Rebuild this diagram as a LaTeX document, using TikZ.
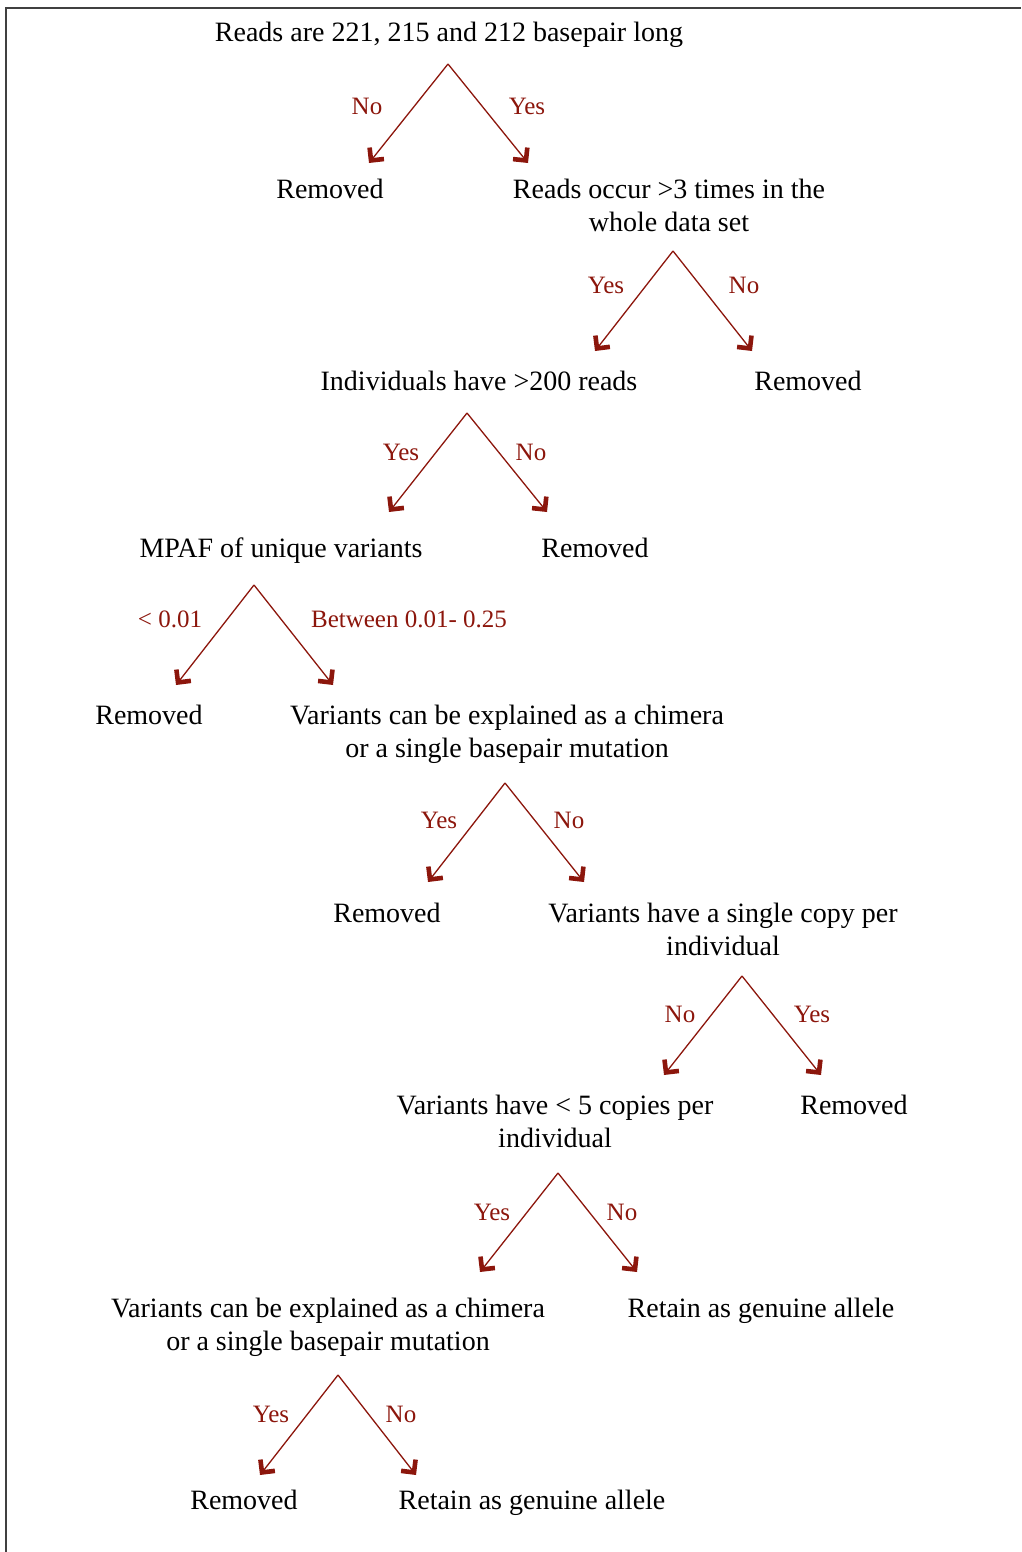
\documentclass[tikz,border=0pt]{standalone}
\usepackage{fontspec}
\setmainfont{Liberation Serif}
\usepackage{tikz}
\usetikzlibrary{arrows.meta}
\definecolor{branchred}{RGB}{140,22,12}
\tikzset{
  step node/.style = 	{align=center, inner sep=0pt,
				font=\fontsize{28}{33}\selectfont},
  choice/.style = 	{text=branchred, inner sep=0pt,
				font=\fontsize{25}{30}\selectfont},
  branch/.style = 	{draw=branchred, line width=1.3pt,
				-{Straight Barb[angle=90:13pt, line width=4.6pt]}},
}
\begin{document}
\begin{tikzpicture}
	[
		x                       = 1pt,
		y                       = -1pt,
		every node/.style       = {anchor=center}
	]
	\useasboundingbox (0,0) rectangle (1021,1552);
	\draw [line width=1.5pt, black!75] (6,1552) -- (6,8) -- (1021,8);

	\node [step node] (len)    at (449,35)   {Reads are 221, 215 and 212 basepair long};
	\node [step node] (rem1)   at (330,189)  {Removed};
	\node [step node] (occur)  at (669,205)  {Reads occur >3 times in the\\whole data set};
	\node [step node] (indiv)  at (479,381)  {Individuals have >200 reads};
	\node [step node] (rem2)   at (808,381)  {Removed};
	\node [step node] (mpaf)   at (281,551)  {MPAF of unique variants};
	\node [step node] (rem3)   at (595,548)  {Removed};
	\node [step node] (rem4)   at (149,715)  {Removed};
	\node [step node] (chim1)  at (507,734)  {Variants can be explained as a chimera\\or a single basepair mutation};
	\node [step node] (rem5)   at (387,913)  {Removed};
	\node [step node] (single) at (723,929)  {Variants have a single copy per\\individual};
	\node [step node] (five)   at (555,1121) {Variants have < 5 copies per\\individual};
	\node [step node] (rem6)   at (854,1105) {Removed};
	\node [step node] (chim2)  at (328,1327) {Variants can be explained as a chimera\\or a single basepair mutation};
	\node [step node] (keep1)  at (761,1311) {Retain as genuine allele};
	\node [step node] (rem7)   at (244,1500) {Removed};
	\node [step node] (keep2)  at (532,1503) {Retain as genuine allele};

	\coordinate (s1) at (448,64);   \coordinate (s1l) at (369,163);  \coordinate (s1r) at (528,163);
	\coordinate (s2) at (673,251);  \coordinate (s2l) at (595,351);  \coordinate (s2r) at (752,351);
	\coordinate (s3) at (467,413);  \coordinate (s3l) at (389,512);  \coordinate (s3r) at (547,512);
	\coordinate (s4) at (254,585);  \coordinate (s4l) at (176,685);  \coordinate (s4r) at (333,685);
	\coordinate (s5) at (505,783);  \coordinate (s5l) at (428,882);  \coordinate (s5r) at (584,882);
	\coordinate (s6) at (742,976);  \coordinate (s6l) at (664,1075); \coordinate (s6r) at (821,1075);
	\coordinate (s7) at (558,1173); \coordinate (s7l) at (480,1272); \coordinate (s7r) at (637,1272);
	\coordinate (s8) at (338,1375); \coordinate (s8l) at (260,1475); \coordinate (s8r) at (416,1475);

	\draw [branch] (s1) -- (s1l);  \draw [branch] (s1) -- (s1r);
	\draw [branch] (s2) -- (s2l);  \draw [branch] (s2) -- (s2r);
	\draw [branch] (s3) -- (s3l);  \draw [branch] (s3) -- (s3r);
	\draw [branch] (s4) -- (s4l);  \draw [branch] (s4) -- (s4r);
	\draw [branch] (s5) -- (s5l);  \draw [branch] (s5) -- (s5r);
	\draw [branch] (s6) -- (s6l);  \draw [branch] (s6) -- (s6r);
	\draw [branch] (s7) -- (s7l);  \draw [branch] (s7) -- (s7r);
	\draw [branch] (s8) -- (s8l);  \draw [branch] (s8) -- (s8r);

	\node [choice] (c1l) at (367,106)  {No};
	\node [choice] (c1r) at (527,106)  {Yes};
	\node [choice] (c2l) at (606,285)  {Yes};
	\node [choice] (c2r) at (744,285)  {No};
	\node [choice] (c3l) at (401,452)  {Yes};
	\node [choice] (c3r) at (531,452)  {No};
	\node [choice] (c4l) at (170,619)  {< 0.01};
	\node [choice] (c4r) at (409,619)  {Between 0.01- 0.25};
	\node [choice] (c5l) at (439,820)  {Yes};
	\node [choice] (c5r) at (569,820)  {No};
	\node [choice] (c6l) at (680,1014) {No};
	\node [choice] (c6r) at (812,1014) {Yes};
	\node [choice] (c7l) at (492,1212) {Yes};
	\node [choice] (c7r) at (622,1212) {No};
	\node [choice] (c8l) at (271,1414) {Yes};
	\node [choice] (c8r) at (401,1414) {No};
\end{tikzpicture}
\end{document}
